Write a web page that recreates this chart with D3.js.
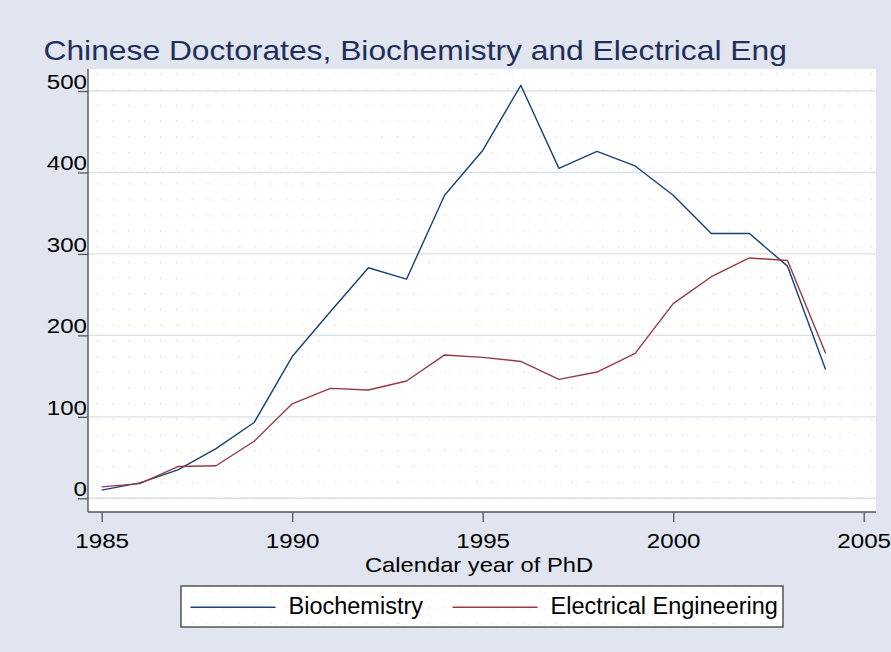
<!DOCTYPE html>
<html>
<head>
<meta charset="utf-8">
<script src="https://cdn.jsdelivr.net/npm/d3@7"></script>
<style>
  body { margin: 0; background: #e0e5ef; }
  text { font-family: "Liberation Sans", Arial, Helvetica, sans-serif; }
</style>
</head>
<body>
<script>
// data
var years = [1985, 1986, 1987, 1988, 1989, 1990, 1991, 1992, 1993, 1994,
             1995, 1996, 1997, 1998, 1999, 2000, 2001, 2002, 2003, 2004];
var biochem = [10, 19, 35, 61, 93, 174, 229, 283, 269, 372,
               427, 507, 405, 426, 408, 372, 325, 325, 285, 158];
var elec = [14, 18, 39, 40, 70, 116, 135, 133, 144, 176,
            173, 168, 146, 155, 178, 239, 272, 295, 292, 178];
var xTicks = [1985, 1990, 1995, 2000, 2005];
var yTicks = [0, 100, 200, 300, 400, 500];
var seriesNames = ["Biochemistry", "Electrical Engineering"];

var width = 891, height = 652;
var plot = {left: 88, right: 876, top: 69, bottom: 512};
var colors = ["#1a3f78", "#963a43"];

var svg = d3.select("body").append("svg")
    .attr("width", width)
    .attr("height", height);

svg.append("rect").attr("width", width).attr("height", height).attr("fill", "#e0e5ef");

// dotted background pattern
var defs = svg.append("defs");
var pat = defs.append("pattern")
    .attr("id", "dots")
    .attr("patternUnits", "userSpaceOnUse")
    .attr("x", 81).attr("y", 10.5)
    .attr("width", 15.8).attr("height", 15.7);
pat.append("rect").attr("width", 15.8).attr("height", 15.7).attr("fill", "#ffffff");
pat.append("rect").attr("x", 0).attr("y", 0).attr("width", 1.3).attr("height", 1.3).attr("fill", "#d8dce8");
pat.append("rect").attr("x", 5).attr("y", 1.2).attr("width", 1).attr("height", 1).attr("fill", "#e2e5ee");

//SCALES
var xScale = d3.scaleLinear().domain([1985, 2005]).range([101.7, 863.7]);
var yScale = d3.scaleLinear().domain([0, 500]).range([498.3, 91]);

// plot region
svg.append("rect")
    .attr("x", plot.left).attr("y", plot.top)
    .attr("width", plot.right - plot.left).attr("height", plot.bottom - plot.top)
    .attr("fill", "url(#dots)");

// gridlines
svg.append("g").selectAll("line")
    .data(yTicks)
    .enter().append("line")
        .attr("x1", plot.left).attr("x2", plot.right)
        .attr("y1", function(d){ return yScale(d); })
        .attr("y2", function(d){ return yScale(d); })
        .attr("stroke", "#dae0ec")
        .attr("stroke-width", 1.4);

// title
svg.append("text")
    .attr("transform", "translate(43.5,60) scale(1.135,1)")
    .attr("font-size", 28)
    .attr("fill", "#1f2f5a")
    .text("Chinese Doctorates, Biochemistry and Electrical Eng");

// axes
var yAxis = svg.append("g")
    .attr("transform", "translate(" + plot.left + ",0)")
    .call(d3.axisLeft(yScale).tickValues(yTicks).tickSize(10).tickFormat(d3.format("d")));
yAxis.select(".domain").remove();
yAxis.selectAll("line").attr("stroke", "#555").attr("stroke-width", 1.3);
yAxis.selectAll("text")
    .attr("x", null).attr("dy", null)
    .attr("transform", "translate(-1,-2.5) scale(1.15,1)")
    .attr("text-anchor", "end")
    .attr("font-size", 21)
    .attr("font-family", null)
    .attr("fill", "#000");

var xAxis = svg.append("g")
    .attr("transform", "translate(0," + plot.bottom + ")")
    .call(d3.axisBottom(xScale).tickValues(xTicks).tickSize(10).tickFormat(d3.format("d")));
xAxis.select(".domain").remove();
xAxis.selectAll("line").attr("stroke", "#555").attr("stroke-width", 1.3);
xAxis.selectAll("text")
    .attr("y", null).attr("dy", null)
    .attr("transform", "translate(0,36) scale(1.15,1)")
    .attr("text-anchor", "middle")
    .attr("font-size", 21)
    .attr("font-family", null)
    .attr("fill", "#000");

svg.append("line")
    .attr("x1", plot.left).attr("x2", plot.left)
    .attr("y1", plot.top).attr("y2", plot.bottom)
    .attr("stroke", "#555").attr("stroke-width", 1.4);
svg.append("line")
    .attr("x1", plot.left).attr("x2", plot.right)
    .attr("y1", plot.bottom).attr("y2", plot.bottom)
    .attr("stroke", "#555").attr("stroke-width", 1.4);

// axis title
svg.append("text")
    .attr("transform", "translate(479,572) scale(1.13,1)")
    .attr("text-anchor", "middle")
    .attr("font-size", 21)
    .attr("fill", "#000")
    .text("Calendar year of PhD");

// lines
var line = d3.line()
    .x(function(d){ return xScale(d[0]); })
    .y(function(d){ return yScale(d[1]); });

var series = [biochem, elec].map(function(vals){
    return years.map(function(y, i){ return [y, vals[i]]; });
});

svg.append("g").selectAll("path")
    .data(series)
    .enter().append("path")
        .attr("d", line)
        .attr("fill", "none")
        .attr("stroke", function(d, i){ return colors[i]; })
        .attr("stroke-width", 1.4)
        .attr("stroke-linejoin", "round");

// legend
var legend = svg.append("g");
legend.append("rect")
    .attr("x", 181).attr("y", 586)
    .attr("width", 602).attr("height", 41)
    .attr("fill", "url(#dots)")
    .attr("stroke", "#4a4a4a").attr("stroke-width", 1.4);

var legendX = [190.5, 452.6];
var items = legend.selectAll("g.item")
    .data(seriesNames)
    .enter().append("g")
        .attr("class", "item")
        .attr("transform", function(d, i){ return "translate(" + legendX[i] + ",607.3)"; });
items.append("line")
    .attr("x1", 0).attr("x2", 85)
    .attr("stroke", function(d, i){ return colors[i]; })
    .attr("stroke-width", 1.4);
items.append("text")
    .attr("x", 98).attr("y", 7)
    .attr("font-size", 23.5)
    .attr("fill", "#000")
    .text(function(d){ return d; });
</script>
</body>
</html>
